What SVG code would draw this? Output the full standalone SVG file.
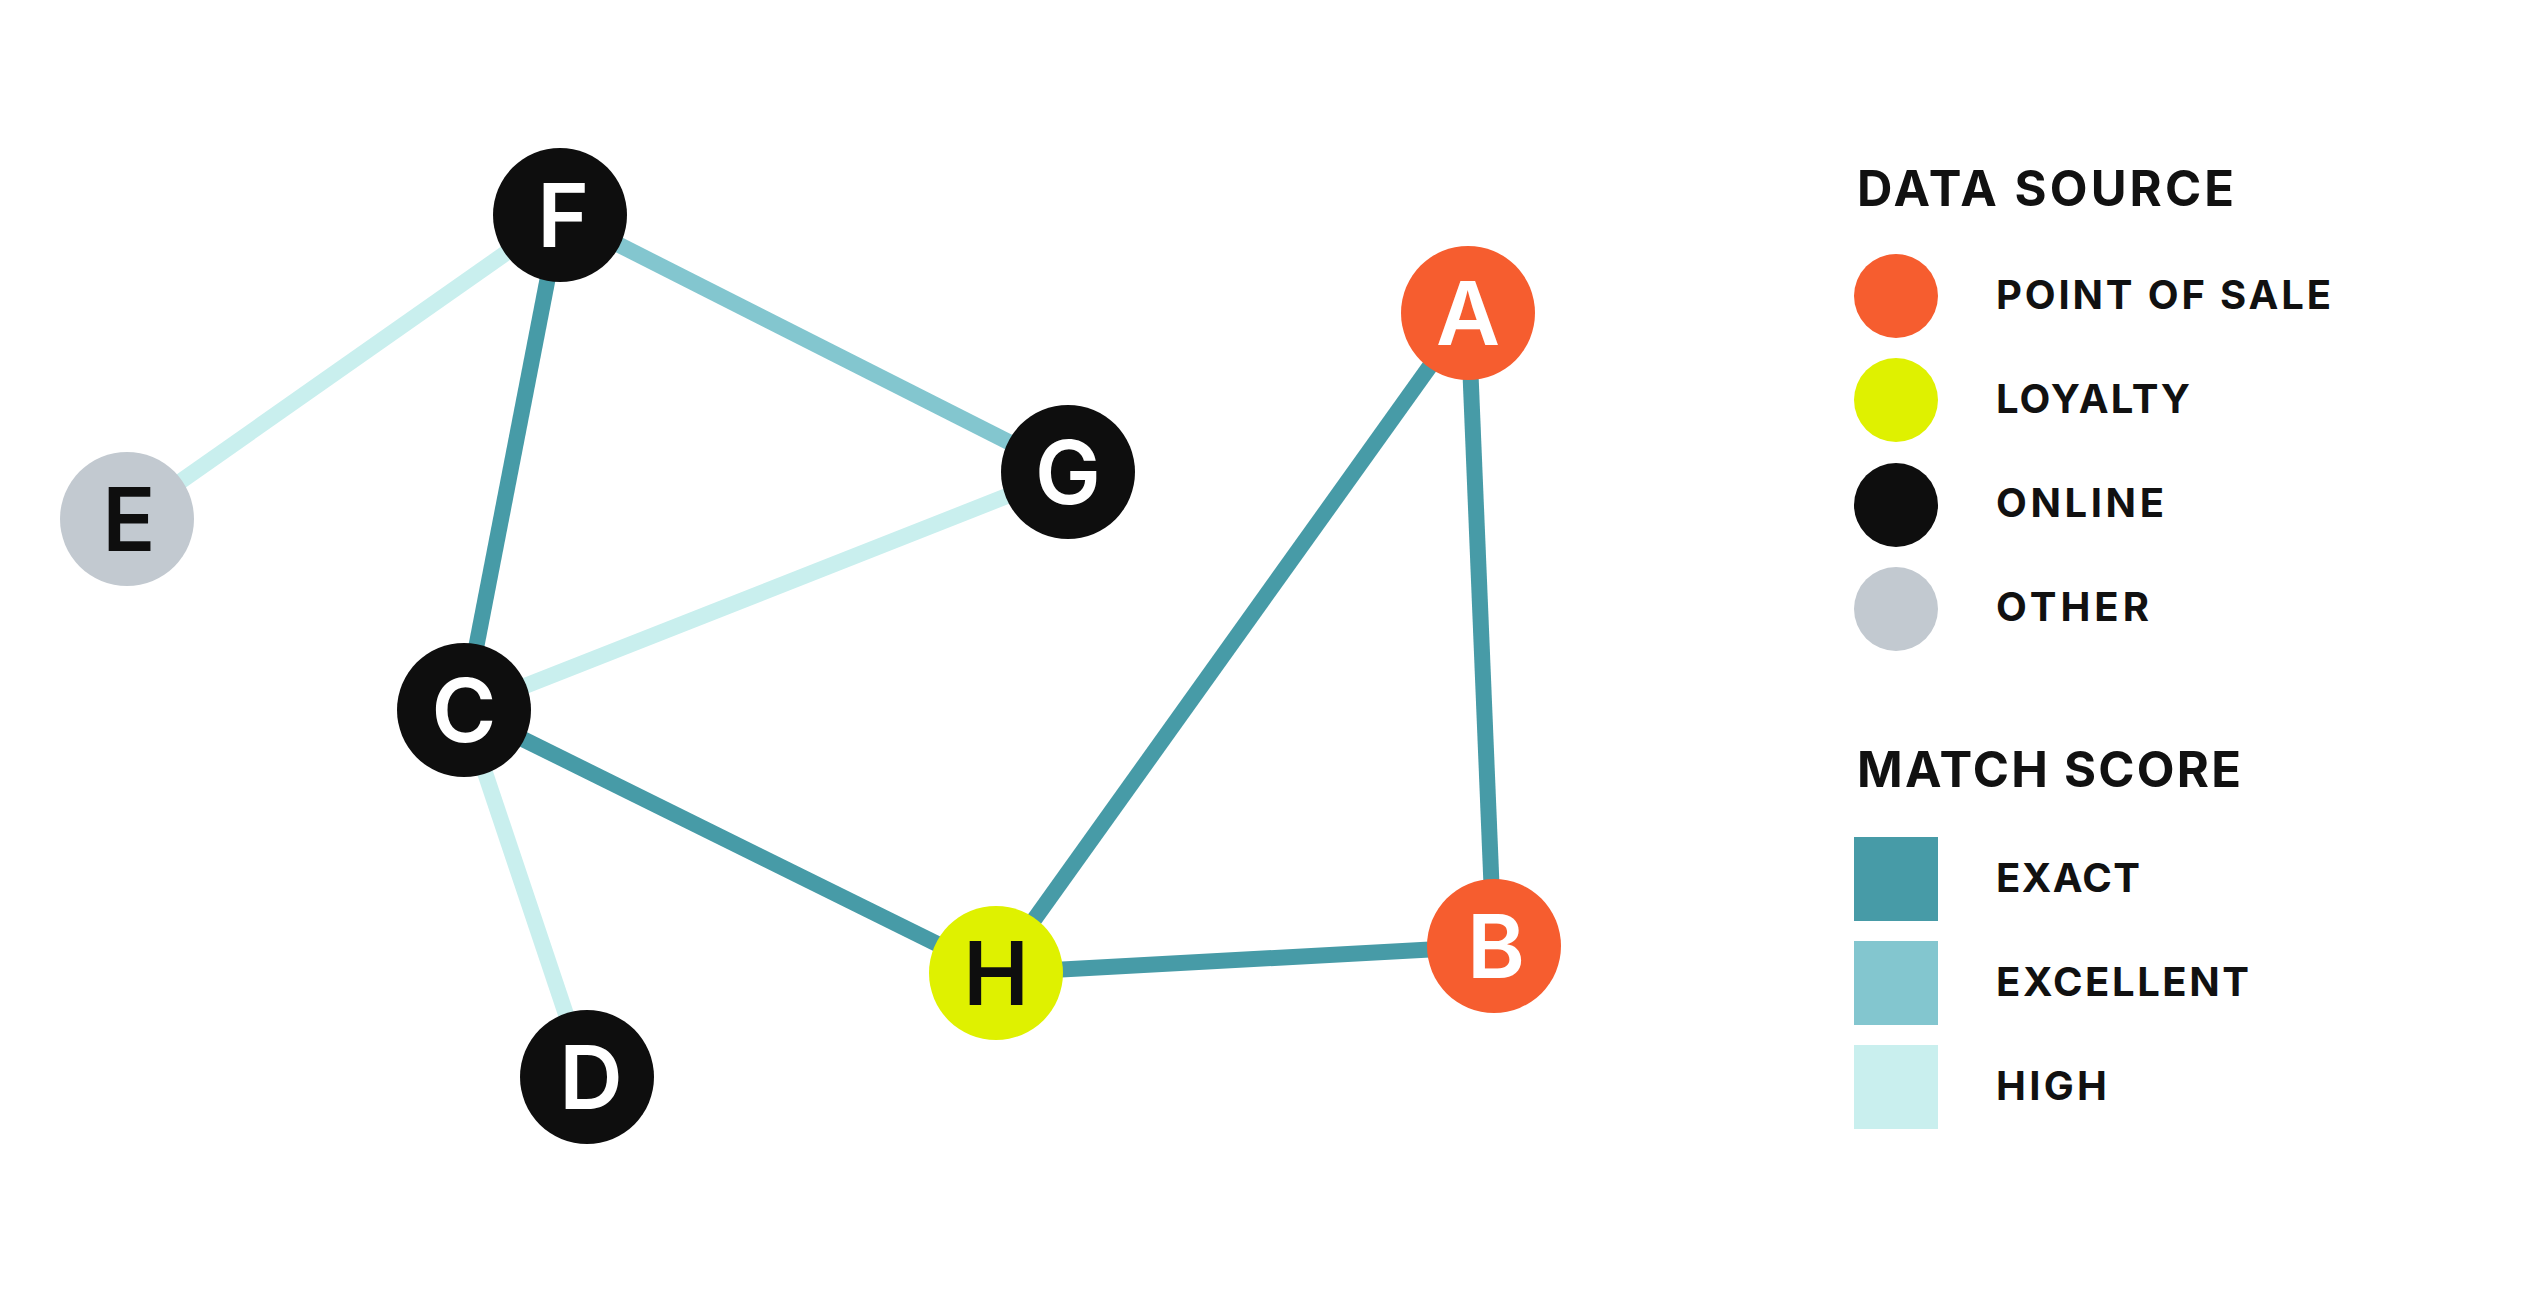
<svg xmlns="http://www.w3.org/2000/svg" width="2543" height="1293" viewBox="0 0 2543 1293">
<style>
.edge{stroke-width:16;stroke-linecap:butt;fill:none}
.exact{stroke:#479BA7}
.excellent{stroke:#83C6CF}
.high{stroke:#C9EFEE}
.pos{fill:#F65D2F}
.loy{fill:#DFF100}
.onl{fill:#0E0E0E}
.oth{fill:#C2C9D0}
.nl{font-family:Inter,"Liberation Sans",Arial,sans-serif;font-weight:600;font-size:88px;text-anchor:middle}
.lw{fill:#FFFFFF}
.lb{fill:#0E0E0E}
.hd{font-family:Inter,"Liberation Sans",Arial,sans-serif;font-weight:700;font-size:49px;fill:#111111}
.lg{font-family:Inter,"Liberation Sans",Arial,sans-serif;font-weight:700;font-size:40px;fill:#111111}
</style>
<rect x="0" y="0" width="2543" height="1293" fill="#FFFFFF"/>
<g id="connectors">
<line class="edge high" x1="127" y1="519" x2="560" y2="215"/>
<line class="edge excellent" x1="560" y1="215" x2="1068" y2="472"/>
<line class="edge exact" x1="560" y1="215" x2="464" y2="710"/>
<line class="edge high" x1="1068" y1="472" x2="464" y2="710"/>
<line class="edge high" x1="464" y1="710" x2="587" y2="1077"/>
<line class="edge exact" x1="464" y1="710" x2="996" y2="973"/>
<line class="edge exact" x1="996" y1="973" x2="1468" y2="313"/>
<line class="edge exact" x1="1468" y1="313" x2="1494" y2="946"/>
<line class="edge exact" x1="996" y1="973" x2="1494" y2="946"/>
</g>
<g id="node-A"><circle class="pos" cx="1468" cy="313" r="67"/><text class="nl lw" x="1468" y="345">A</text></g>
<g id="node-B"><circle class="pos" cx="1494" cy="946" r="67"/><text class="nl lw" x="1496" y="978">B</text></g>
<g id="node-C"><circle class="onl" cx="464" cy="710" r="67"/><text class="nl lw" x="464" y="742">C</text></g>
<g id="node-D"><circle class="onl" cx="587" cy="1077" r="67"/><text class="nl lw" x="591" y="1109">D</text></g>
<g id="node-E"><circle class="oth" cx="127" cy="519" r="67"/><text class="nl lb" x="129" y="551">E</text></g>
<g id="node-F"><circle class="onl" cx="560" cy="215" r="67"/><text class="nl lw" x="563" y="247">F</text></g>
<g id="node-G"><circle class="onl" cx="1068" cy="472" r="67"/><text class="nl lw" x="1068" y="504">G</text></g>
<g id="node-H"><circle class="loy" cx="996" cy="973" r="67"/><text class="nl lb" x="996" y="1005">H</text></g>
<g id="legend-data-source">
<text class="hd" x="1857" y="206" textLength="377" lengthAdjust="spacing">DATA SOURCE</text>
<circle class="pos" cx="1896" cy="296" r="42"/>
<text class="lg" x="1996" y="309" textLength="335" lengthAdjust="spacing">POINT OF SALE</text>
<circle class="loy" cx="1896" cy="400" r="42"/>
<text class="lg" x="1996" y="413" textLength="194" lengthAdjust="spacing">LOYALTY</text>
<circle class="onl" cx="1896" cy="505" r="42"/>
<text class="lg" x="1996" y="517" textLength="168" lengthAdjust="spacing">ONLINE</text>
<circle class="oth" cx="1896" cy="609" r="42"/>
<text class="lg" x="1996" y="621" textLength="153" lengthAdjust="spacing">OTHER</text>
</g>
<g id="legend-match-score">
<text class="hd" x="1857" y="787" textLength="384" lengthAdjust="spacing">MATCH SCORE</text>
<rect x="1854" y="837" width="84" height="84" fill="#479BA7"/>
<text class="lg" x="1996" y="892" textLength="144" lengthAdjust="spacing">EXACT</text>
<rect x="1854" y="941" width="84" height="84" fill="#83C6CF"/>
<text class="lg" x="1996" y="996" textLength="253" lengthAdjust="spacing">EXCELLENT</text>
<rect x="1854" y="1045" width="84" height="84" fill="#C9EFEE"/>
<text class="lg" x="1996" y="1100" textLength="111" lengthAdjust="spacing">HIGH</text>
</g>
</svg>
